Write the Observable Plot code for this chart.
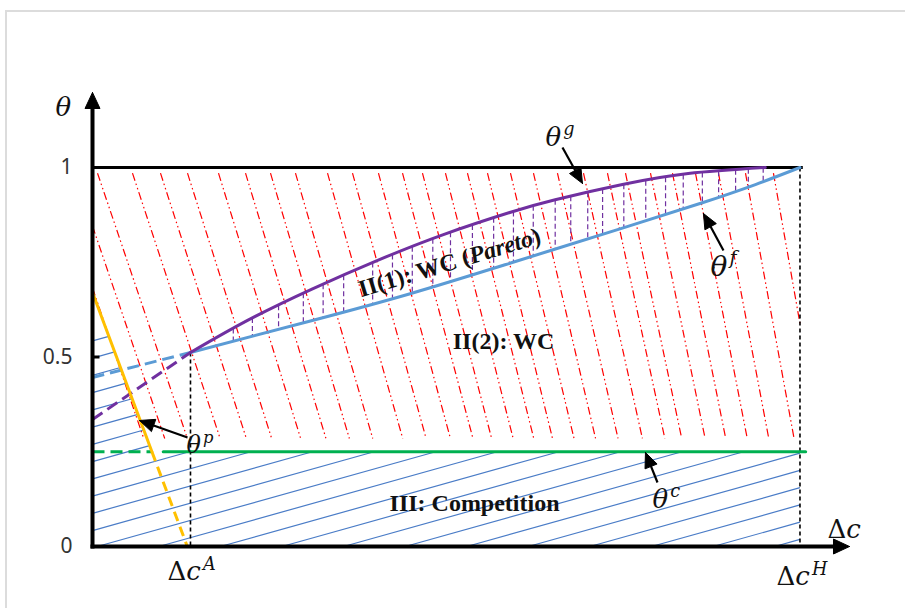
<!DOCTYPE html>
<html><head><meta charset="utf-8">
<script src="https://cdn.jsdelivr.net/npm/d3@7"></script>
<script src="https://cdn.jsdelivr.net/npm/@observablehq/plot@0.6"></script>
<style>
body{margin:0;background:#fff;}
#wrap{position:relative;width:905px;height:608px;overflow:hidden;background:#fff;}
#frame{position:absolute;left:5px;top:10px;width:1000px;height:1000px;border-top:2px solid #dcdcdc;border-left:2px solid #dcdcdc;pointer-events:none;}
</style></head><body><div id="wrap"><div id="chart"></div><div id="frame"></div></div>
<script>
// ---------------- data ----------------
const dcA = 0.1385;           // Δc^A
const dcH = 1.0;              // Δc^H
const thetaC = 0.25;          // θ^c
const thetaF_dc  = [0.1385, 0.308, 0.449, 0.591, 0.749, 0.862, 0.937, 1.0];
const thetaF_val = [0.512,  0.595, 0.667, 0.748, 0.840, 0.907, 0.955, 1.0];
const thetaF_atZero = 0.446;  // dashed extension at Δc=0
const thetaG_dc  = [0.1385, 0.2205, 0.311, 0.403, 0.496, 0.591, 0.654, 0.749, 0.842, 0.951];
const thetaG_val = [0.512,  0.598,  0.680, 0.755, 0.823, 0.882, 0.915, 0.955, 0.984, 1.0];
const thetaG_atZero = 0.335;
const thetaP_atZero = 0.67;   // θ^p at Δc=0
const thetaP_root = 0.134;    // Δc where θ^p reaches 0
const tickValues = [0, 0.5, 1];
const tickLabels = ["0", "0.5", "1"];
// hatch positions
const redHatchTop = [-0.0551,-0.0254,0.0071,0.0565,0.0961,0.1343,0.1781,0.2163,0.2516,0.2869,0.3322,0.3675,0.4042,0.4382,0.4664,0.4989,0.5300,0.5583,0.5908,0.6233,0.6572,0.6940,0.7279,0.7534,0.7887,0.8198,0.8523,0.8848,0.9230,0.9625];
const purpleHatch = [0.199,0.226,0.263,0.298,0.326,0.355,0.396,0.424,0.452,0.481,0.506,0.537,0.567,0.595,0.623,0.654,0.676,0.700,0.721,0.751,0.782,0.810,0.835,0.862,0.885,0.909,0.927,0.948];
const blueHatchIntercepts = d3.range(-12, 12).map(k => 0.042 + 0.0455 * k);
// annotation arrows [fromDc, fromTheta, toDc, toTheta]
const arrows = [
  [0.6643, 1.0528, 0.6926, 0.9578],
  [0.8919, 0.7810, 0.8636, 0.8786],
  [0.7986, 0.1689, 0.7816, 0.2480],
  [0.1343, 0.2876, 0.0664, 0.3325]
];
const mathLabels = [
  {x:-0.0523, y:1.1346, t:"θ", fs:26},
  {x:0.6403,  y:1.058,  t:"θ^g", fs:26},
  {x:0.8735,  y:0.715,  t:"θ^f", fs:28},
  {x:0.7915,  y:0.1029, t:"θ^c", fs:26},
  {x:0.1329,  y:0.2454, t:"θ^p", fs:24},
  {x:1.0389,  y:0.0237, t:"Δc", fs:26},
  {x:0.1060,  y:-0.0897,t:"Δc^A", fs:26},
  {x:0.9668,  y:-0.1029,t:"Δc^H", fs:26}
];
const regionLabels = [
  {x:0.5046, y:0.749, t:"II(1): WC (Pareto)", r:-16.8},
  {x:0.581,  y:0.541, t:"II(2): WC", r:0},
  {x:0.540,  y:0.113, t:"III: Competition", r:0}
];
const mathParts = {
  "θ":   [["θ","i"]],
  "θ^g": [["θ","i"],["g","sup"]],
  "θ^f": [["θ","i"],["f","sup"]],
  "θ^c": [["θ","i"],["c","sup"]],
  "θ^p": [["θ","i"],["p","sup"]],
  "Δc":  [["Δ","n"],["c","i"]],
  "Δc^A":[["Δ","n"],["c","i"],["A","sup"]],
  "Δc^H":[["Δ","n"],["c","i"],["H","sup"]],
  "II(1): WC (Pareto)": [["II(1): WC (","n"],["Pareto","i"],[")","n"]]
};

// ---------------- geometry helpers ----------------
const X0 = 92, KX = 707.48, Y0 = 546, KY = 379;
const px = v => X0 + v * KX, py = v => Y0 - v * KY;
const ix = p => (p - X0) / KX, iy = p => (Y0 - p) / KY;
function interp(xs, ys, x, hi) {
  if (x <= xs[0]) return ys[0];
  if (x >= xs[xs.length - 1]) return hi;
  for (let i = 1; i < xs.length; i++) if (x <= xs[i]) {
    const t = (x - xs[i-1]) / (xs[i] - xs[i-1]);
    return ys[i-1] + t * (ys[i] - ys[i-1]);
  }
}
const zip = (a, b) => a.map((v, i) => ({x: v, y: b[i]}));
const fPts = zip(thetaF_dc, thetaF_val);
const gPts = zip(thetaG_dc, thetaG_val);
const thetaP = dc => thetaP_atZero * (1 - dc / thetaP_root);
const pSolidEnd = thetaP_root * (1 - thetaC / thetaP_atZero);
const yellowDc = th => thetaP_root * (1 - th / thetaP_atZero);

// red dash-dot hatch (region II)
const RED_TOP = 0.985, RED_BOT = 0.285;
const redSegs = redHatchTop.map(t => {
  const kpx = 0.34 - 0.17 * Math.max(0, t);
  const k = kpx * KY / KX;
  let x1 = t, y1 = RED_TOP, x2 = t + k * (RED_TOP - RED_BOT), y2 = RED_BOT;
  if (x1 < 0) { y1 = RED_TOP - (0 - t) / k; x1 = 0; }
  if (x2 > dcH) { y2 = RED_TOP - (dcH - t) / k; x2 = dcH; }
  return {x1, y1, x2, y2};
});
// purple dashed hatch (region II(1))
const purpleSegs = purpleHatch.map(x => ({x1: x, y1: interp(thetaG_dc, thetaG_val, x, 1), x2: x, y2: interp(thetaF_dc, thetaF_val, x, 1)}));
// blue hatch (region III and left strip)
const m = 0.28 * KX / KY;
const A = thetaP_root, T = thetaP_atZero;
const blueSegs = [];
for (const b of blueHatchIntercepts) {
  if (b > 0.56) continue;
  const xs = b >= 0 ? 0 : -b / m;
  if (xs >= dcH) continue;
  let xe;
  const hitYellow = () => { const th = (b + m * A) / (1 + m * A / T); return (th - b) / m; };
  if (b > thetaC) xe = hitYellow();
  else {
    const xc = (thetaC - b) / m;
    xe = xc < yellowDc(thetaC) ? hitYellow() : Math.min(xc, dcH);
  }
  blueSegs.push({x1: xs, y1: b + m * xs, x2: xe, y2: b + m * xe});
}
// filled triangles (arrow heads)
const tris = [];
function addTri(id, tipX, tipY, ux, uy, len, half) { // ux,uy: unit dir in px
  const tx = px(tipX), ty = py(tipY);
  const bx = tx - ux * len, by = ty - uy * len;
  const nx = -uy, ny = ux;
  for (const [X, Y] of [[tx, ty], [bx + nx * half, by + ny * half], [bx - nx * half, by - ny * half], [tx, ty]])
    tris.push({id, x: ix(X), y: iy(Y)});
}
addTri("yaxis", 0, iy(92), 0, -1, 16, 7.5);
addTri("xaxis", ix(849), 0, 1, 0, 16, 7.5);
const shafts = arrows.map(([a, b, c, d], i) => {
  const dxp = px(c) - px(a), dyp = py(d) - py(b);
  const L = Math.hypot(dxp, dyp), ux = dxp / L, uy = dyp / L;
  addTri("a" + i, c, d, ux, uy, 15, 6.5);
  return {x1: a, y1: b, x2: ix(px(c) - ux * 12), y2: iy(py(d) - uy * 12)};
});

const serif = "'Liberation Serif', 'Times New Roman', serif";
const mathFont = "'DejaVu Serif', 'Liberation Serif', serif";

const chart = Plot.plot({
  width: 905, height: 608,
  marginLeft: 92, marginRight: 56, marginTop: 91.2, marginBottom: 62,
  x: {domain: [0, 1.07], axis: null},
  y: {domain: [0, 1.2], axis: null},
  style: {background: "transparent", overflow: "visible"},
  marks: [
    // hatching
    Plot.link(redSegs, {x1: "x1", y1: "y1", x2: "x2", y2: "y2", stroke: "#ff0000", strokeWidth: 1.2, strokeDasharray: "8,3,1.5,3,1.5,3", strokeLinecap: "butt"}),
    Plot.link(blueSegs, {x1: "x1", y1: "y1", x2: "x2", y2: "y2", stroke: "#4a7cc7", strokeWidth: 1.2}),
    Plot.link(purpleSegs, {x1: "x1", y1: "y1", x2: "x2", y2: "y2", stroke: "#7030a0", strokeWidth: 1.2, strokeDasharray: "5,3", strokeLinecap: "butt"}),
    // boundary lines
    Plot.link([{x1: 0, y1: 1, x2: dcH + 0.004, y2: 1}], {x1: "x1", y1: "y1", x2: "x2", y2: "y2", stroke: "black", strokeWidth: 3}),
    Plot.link([{x: dcA, y1: thetaF_val[0], y2: 0}, {x: dcH, y1: 1, y2: 0.003}], {x1: "x", x2: "x", y1: "y1", y2: "y2", stroke: "black", strokeWidth: 1.6, strokeDasharray: "4,3"}),
    Plot.line([{x: 0, y: thetaC}, {x: 0.085, y: thetaC}], {x: "x", y: "y", stroke: "#00b050", strokeWidth: 3, strokeDasharray: "12,6", strokeLinecap: "butt"}),
    Plot.line([{x: 0.1, y: thetaC}, {x: dcH + 0.008, y: thetaC}], {x: "x", y: "y", stroke: "#00b050", strokeWidth: 3}),
    Plot.line([{x: 0, y: thetaF_atZero}, fPts[0]], {x: "x", y: "y", stroke: "#5b9bd5", strokeWidth: 3, strokeDasharray: "12,6", strokeLinecap: "butt"}),
    Plot.line(fPts, {x: "x", y: "y", curve: "natural", stroke: "#5b9bd5", strokeWidth: 3}),
    Plot.line([{x: 0, y: thetaG_atZero}, gPts[0]], {x: "x", y: "y", stroke: "#7030a0", strokeWidth: 3, strokeDasharray: "12,6", strokeLinecap: "butt"}),
    Plot.line(gPts, {x: "x", y: "y", curve: "natural", stroke: "#7030a0", strokeWidth: 3}),
    Plot.line([{x: 0, y: thetaP_atZero}, {x: pSolidEnd, y: thetaP(pSolidEnd)}], {x: "x", y: "y", stroke: "#ffc000", strokeWidth: 3}),
    Plot.line([{x: pSolidEnd, y: thetaP(pSolidEnd)}, {x: thetaP_root, y: 0}], {x: "x", y: "y", stroke: "#ffc000", strokeWidth: 3, strokeDasharray: "10,6", strokeLinecap: "butt"}),
    // axes
    Plot.link([{x1: 0, y1: 0, x2: ix(836), y2: 0}, {x1: 0, y1: 0, x2: 0, y2: iy(104)}], {x1: "x1", y1: "y1", x2: "x2", y2: "y2", stroke: "black", strokeWidth: 4, strokeLinecap: "square"}),
    Plot.link([{x1: 0, y1: 0.5, x2: ix(99), y2: 0.5}], {x1: "x1", y1: "y1", x2: "x2", y2: "y2", stroke: "black", strokeWidth: 3}),
    Plot.line(tris, {x: "x", y: "y", z: "id", fill: "black", stroke: "black", strokeWidth: 1}),
    Plot.link(shafts, {x1: "x1", y1: "y1", x2: "x2", y2: "y2", stroke: "black", strokeWidth: 2.2}),
    // tick labels
    Plot.text(tickValues, {x: 0, y: d => d, text: (d, i) => tickLabels[i], dx: -20, textAnchor: "end", fontSize: 21, fontFamily: "'Noto Sans', sans-serif", fill: "#333"}),
    // region labels
    Plot.text(regionLabels, {x: "x", y: "y", text: "t", rotate: "r", fontSize: 24, fontWeight: "bold", fontFamily: serif, fill: "#111"}),
    // math labels
    Plot.text(mathLabels, {x: "x", y: "y", text: "t", fontSize: "fs", textAnchor: "start", lineAnchor: "bottom", fontFamily: mathFont, fill: "#111"})
  ]
});

d3.select(chart).selectAll("text").each(function () {
  const parts = mathParts[this.textContent];
  if (!parts) return;
  this.textContent = "";
  for (const [t, kind] of parts) {
    const ts = document.createElementNS("http://www.w3.org/2000/svg", "tspan");
    ts.textContent = t;
    if (kind === "i") ts.setAttribute("font-style", "italic");
    if (kind === "sup") {
      ts.setAttribute("font-style", "italic");
      ts.setAttribute("font-size", "0.68em");
      ts.setAttribute("dy", "-0.62em");
      ts.setAttribute("dx", "0.12em");
    }
    this.appendChild(ts);
  }
});
document.getElementById("chart").appendChild(chart);
</script></body></html>
